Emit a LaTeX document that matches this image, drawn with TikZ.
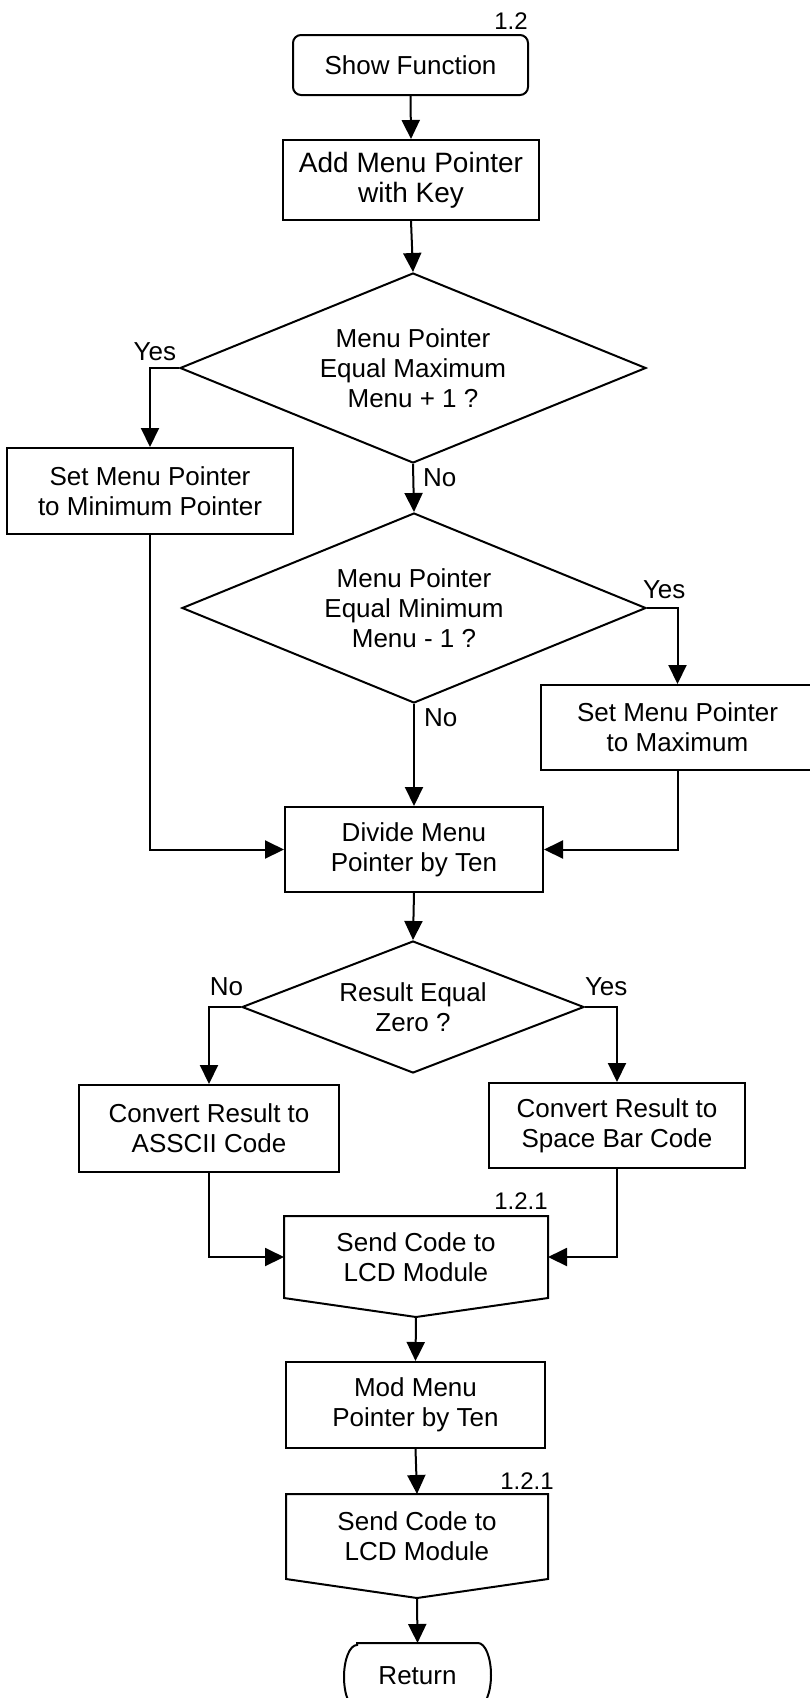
\documentclass[tikz,border=0pt]{standalone}
\usepackage{fontspec}
\setmainfont{Liberation Sans}
\usetikzlibrary{arrows.meta,shapes.geometric,calc}
\begin{document}
\begin{tikzpicture}[x=1pt,y=-1pt,
  line width=2pt,
  every node/.style={font=\fontsize{26}{30}\selectfont},
  proc/.style={draw, rectangle, inner sep=0pt, align=center},
  txt/.style={rectangle, inner sep=0pt, align=center},
  dec/.style={draw, diamond, aspect=2.45, inner sep=0pt, align=center},
  lbl/.style={inner sep=0pt, font=\fontsize{24}{28}\selectfont},
  yn/.style={inner sep=0pt},
  arr/.style={-{Triangle[length=19pt,width=18pt]}}
]
\useasboundingbox (0,0) rectangle (810,1698);
\clip (0,0) rectangle (810,1698);

% nodes
\node[proc, rounded corners=8pt, minimum width=235pt, minimum height=60pt] (show) at (410.5,65) {Show Function};
\node[lbl] (l12) at (511,21) {1.2};
\node[proc, minimum width=256pt, minimum height=80pt, font=\fontsize{28}{30}\selectfont] (add) at (411,180) {Add Menu Pointer\\with Key};
\node[dec, minimum width=466pt, minimum height=190pt] (d1) at (413,368) {Menu Pointer\\Equal Maximum\\Menu + 1 ?};
\node[proc, minimum width=286pt, minimum height=86pt] (setmin) at (150,491) {Set Menu Pointer\\to Minimum Pointer};
\node[dec, minimum width=464pt, minimum height=190pt] (d2) at (414,608) {Menu Pointer\\Equal Minimum\\Menu - 1 ?};
\node[proc, minimum width=273pt, minimum height=85pt] (setmax) at (677.5,727.5) {Set Menu Pointer\\to Maximum};
\node[proc, minimum width=258pt, minimum height=85pt] (divide) at (414,849.5) {Divide Menu\\Pointer by Ten};
\node[dec, aspect=2.6, minimum width=342pt, minimum height=132pt] (d3) at (413,1007) {Result Equal\\Zero ?};
\node[proc, minimum width=260pt, minimum height=87pt] (convL) at (209,1128.5) {Convert Result to\\ASSCII Code};
\node[proc, minimum width=256pt, minimum height=85pt] (convR) at (617,1125.5) {Convert Result to\\Space Bar Code};
\node[txt, minimum width=262pt, minimum height=80pt] (send1) at (416,1257) {Send Code to\\LCD Module};
\node[lbl] (l121a) at (521,1201) {1.2.1};
\node[proc, minimum width=259pt, minimum height=86pt] (mod) at (415.5,1405) {Mod Menu\\Pointer by Ten};
\node[txt, minimum width=260pt, minimum height=83pt] (send2) at (417,1536.5) {Send Code to\\LCD Module};
\node[lbl] (l121b) at (527,1481) {1.2.1};
\node[txt, minimum width=145pt, minimum height=64pt] (ret) at (417.5,1676) {Return};

% off-page connector shapes
\coordinate (send1tip) at ($(send1.south)+(0,19)$);
\coordinate (send2tip) at ($(send2.south)+(0,19)$);
\draw[line join=miter] (send1.north west) -- (send1.north east) -- (send1.south east) -- (send1tip) -- (send1.south west) -- cycle;
\draw[line join=miter] (send2.north west) -- (send2.north east) -- (send2.south east) -- (send2tip) -- (send2.south west) -- cycle;

% terminator
\draw ($(ret.north west)+(13,0)$) -- ($(ret.north east)+(-13,0)$)
  arc[start angle=-90, end angle=90, x radius=13, y radius=32]
  -- ($(ret.south west)+(13,0)$)
  arc[start angle=90, end angle=270, x radius=13, y radius=32] -- cycle;

% connectors
\draw[arr] (show.south) -- (add.north);
\draw[arr] (add.south) -- (d1.north);
\draw[arr] (d1.west) -| (setmin.north);
\draw[arr] (d1.south) -- (d2.north);
\draw[arr] (d2.east) -| (setmax.north);
\draw[arr] (d2.south) -- (divide.north);
\draw[arr] (setmin.south) |- (divide.west);
\draw[arr] (setmax.south) |- (divide.east);
\draw[arr] (divide.south) -- (d3.north);
\draw[arr] (d3.west) -| (convL.north);
\draw[arr] (d3.east) -| (convR.north);
\draw[arr] (convL.south) |- (send1.west);
\draw[arr] (convR.south) |- (send1.east);
\draw[arr] (send1tip) -- (mod.north);
\draw[arr] (mod.south) -- (send2.north);
\draw[arr] (send2tip) -- (ret.north);

% branch labels
\node[yn, anchor=south east] (y1) at ($(d1.west)+(-2,-6)$) {Yes};
\node[yn, anchor=north west] (n1) at ($(d1.south)+(9,4)$) {No};
\node[yn, anchor=south west] (y2) at ($(d2.east)+(-5,-8)$) {Yes};
\node[yn, anchor=north west] (n2) at ($(d2.south)+(9,4)$) {No};
\node[yn, anchor=south west] (y3) at ($(d3.east)+(-1,-10)$) {Yes};
\node[yn, anchor=south east] (n3) at ($(d3.west)+(3,-10)$) {No};
\end{tikzpicture}
\end{document}
